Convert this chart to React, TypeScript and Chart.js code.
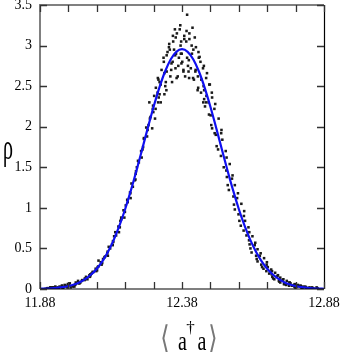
import React, { useEffect, useRef } from 'react';
import { Chart, registerables } from 'chart.js';

Chart.register(...registerables);

// Fitted curve (blue line)
const curveX = [
  11.88, 11.90, 11.92, 11.94, 11.96, 11.98, 12.00, 12.02, 12.04, 12.06, 12.08,
  12.10, 12.12, 12.14, 12.16, 12.18, 12.20, 12.22, 12.24, 12.26, 12.28,
  12.30, 12.32, 12.34, 12.36, 12.38, 12.40, 12.42, 12.44, 12.46, 12.48,
  12.50, 12.52, 12.54, 12.56, 12.58, 12.60, 12.62, 12.64, 12.66, 12.68,
  12.70, 12.72, 12.74, 12.76, 12.78, 12.80, 12.82, 12.84, 12.86, 12.88,
];
const curveY = [
  0.003, 0.005, 0.009, 0.015, 0.023, 0.037, 0.056, 0.084, 0.124, 0.178, 0.250,
  0.344, 0.462, 0.608, 0.783, 0.986, 1.215, 1.464, 1.726, 1.991, 2.246,
  2.479, 2.677, 2.828, 2.923, 2.955, 2.923, 2.828, 2.677, 2.479, 2.246,
  1.991, 1.726, 1.464, 1.215, 0.986, 0.783, 0.608, 0.462, 0.344, 0.250,
  0.178, 0.124, 0.084, 0.056, 0.037, 0.023, 0.015, 0.009, 0.005, 0.003,
];

// Sampled data (black dots)
const sampleX = [
  11.908, 11.898, 11.918, 11.901, 11.916, 11.905,
  11.926, 11.921, 11.937, 11.923, 11.934, 11.926,
  11.949, 11.939, 11.959, 11.942, 11.958, 11.947,
  11.962, 11.957, 11.974, 11.967, 11.977, 11.976,
  11.988, 11.978, 11.998, 11.981, 11.996, 11.985,
  12.006, 12.001, 12.017, 12.003, 12.014, 12.006,
  12.029, 12.019, 12.039, 12.022, 12.038, 12.027,
  12.042, 12.037, 12.054, 12.047, 12.057, 12.056,
  12.068, 12.058, 12.078, 12.061, 12.076, 12.065,
  12.086, 12.081, 12.097, 12.083, 12.094, 12.086,
  12.109, 12.099, 12.119, 12.102, 12.118, 12.107,
  12.122, 12.117, 12.134, 12.127, 12.137, 12.136,
  12.148, 12.138, 12.158, 12.141, 12.156, 12.145,
  12.166, 12.161, 12.177, 12.163, 12.174, 12.166,
  12.189, 12.179, 12.199, 12.182, 12.198, 12.187,
  12.202, 12.197, 12.214, 12.207, 12.217, 12.216,
  12.228, 12.218, 12.238, 12.221, 12.236, 12.225,
  12.246, 12.241, 12.257, 12.243, 12.254, 12.246,
  12.269, 12.259, 12.279, 12.262, 12.278, 12.267,
  12.282, 12.277, 12.294, 12.287, 12.297, 12.296,
  12.308, 12.298, 12.318, 12.301, 12.316, 12.305,
  12.326, 12.321, 12.337, 12.323, 12.334, 12.326,
  12.349, 12.339, 12.359, 12.342, 12.358, 12.347,
  12.362, 12.357, 12.374, 12.367, 12.377, 12.376,
  12.388, 12.378, 12.398, 12.381, 12.396, 12.385,
  12.406, 12.401, 12.417, 12.403, 12.414, 12.406,
  12.429, 12.419, 12.439, 12.422, 12.438, 12.427,
  12.442, 12.437, 12.454, 12.447, 12.457, 12.456,
  12.468, 12.458, 12.478, 12.461, 12.476, 12.465,
  12.486, 12.481, 12.497, 12.483, 12.494, 12.486,
  12.509, 12.499, 12.519, 12.502, 12.518, 12.507,
  12.522, 12.517, 12.534, 12.527, 12.537, 12.536,
  12.548, 12.538, 12.558, 12.541, 12.556, 12.545,
  12.566, 12.561, 12.577, 12.563, 12.574, 12.566,
  12.589, 12.579, 12.599, 12.582, 12.598, 12.587,
  12.602, 12.597, 12.614, 12.607, 12.617, 12.616,
  12.628, 12.618, 12.638, 12.621, 12.636, 12.625,
  12.646, 12.641, 12.657, 12.643, 12.654, 12.646,
  12.669, 12.659, 12.679, 12.662, 12.678, 12.667,
  12.682, 12.677, 12.694, 12.687, 12.697, 12.696,
  12.708, 12.698, 12.718, 12.701, 12.716, 12.705,
  12.726, 12.721, 12.737, 12.723, 12.734, 12.726,
  12.749, 12.739, 12.759, 12.742, 12.758, 12.747,
  12.762, 12.757, 12.774, 12.767, 12.777, 12.776,
  12.788, 12.778, 12.798, 12.781, 12.796, 12.785,
  12.806, 12.801, 12.817, 12.803, 12.814, 12.806,
  12.829, 12.819, 12.839, 12.822, 12.838, 12.827,
  12.842, 12.837, 12.854, 12.847, 12.857, 12.856,
  12.265, 12.275, 12.285, 12.295, 12.305, 12.315,
  12.325, 12.335, 12.345, 12.355, 12.365, 12.375,
  12.385, 12.395, 12.405, 12.415, 12.425, 12.435,
  12.445, 12.455, 12.465, 12.475, 12.485, 12.495,
  12.288, 12.301, 12.318, 12.329, 12.343, 12.352,
  12.361, 12.369, 12.379, 12.391, 12.404, 12.411,
  12.420, 12.428, 12.436, 12.448, 12.458, 12.466,
  12.474, 12.348, 12.356, 12.372, 12.388, 12.398,
];
const sampleY = [
  0.01, 0.00, 0.02, 0.00, 0.02, 0.01,
  0.02, 0.00, 0.01, 0.00, 0.03, 0.02,
  0.03, 0.01, 0.00, 0.02, 0.04, 0.01,
  0.01, 0.04, 0.03, 0.05, 0.02, 0.04,
  0.02, 0.06, 0.04, 0.06, 0.03, 0.07,
  0.08, 0.03, 0.07, 0.05, 0.10, 0.06,
  0.11, 0.07, 0.12, 0.08, 0.13, 0.10,
  0.15, 0.11, 0.17, 0.12, 0.18, 0.15,
  0.21, 0.17, 0.22, 0.19, 0.25, 0.21,
  0.28, 0.23, 0.30, 0.27, 0.33, 0.35,
  0.40, 0.32, 0.41, 0.37, 0.46, 0.39,
  0.52, 0.44, 0.55, 0.50, 0.59, 0.54,
  0.66, 0.58, 0.70, 0.65, 0.77, 0.70,
  0.86, 0.76, 0.88, 0.84, 0.97, 0.88,
  1.07, 0.95, 1.12, 1.03, 1.18, 1.10,
  1.30, 1.19, 1.34, 1.26, 1.42, 1.35,
  1.56, 1.45, 1.62, 1.50, 1.70, 1.58,
  1.86, 1.72, 1.88, 1.75, 1.99, 1.85,
  2.12, 1.96, 2.18, 2.02, 2.26, 2.10,
  2.38, 2.22, 2.42, 2.22, 2.58, 2.30,
  2.70, 2.36, 2.66, 2.40, 2.80, 2.52,
  2.88, 2.50, 2.95, 2.55, 2.98, 2.68,
  3.05, 2.62, 2.90, 2.70, 3.10, 2.80,
  3.15, 2.72, 3.25, 2.75, 3.05, 2.90,
  3.12, 2.78, 3.38, 2.80, 3.18, 2.70,
  3.08, 2.75, 3.22, 2.68, 3.00, 3.15,
  2.98, 2.60, 2.85, 2.58, 2.92, 2.68,
  2.86, 2.48, 2.72, 2.42, 2.75, 2.50,
  2.66, 2.34, 2.52, 2.25, 2.52, 2.30,
  2.36, 2.14, 2.28, 2.02, 2.22, 1.98,
  2.10, 1.90, 1.96, 1.76, 1.92, 1.72,
  1.84, 1.64, 1.70, 1.50, 1.62, 1.46,
  1.54, 1.38, 1.40, 1.28, 1.36, 1.22,
  1.28, 1.14, 1.18, 1.04, 1.12, 0.98,
  1.05, 0.92, 0.96, 0.84, 0.90, 0.78,
  0.84, 0.72, 0.76, 0.66, 0.70, 0.60,
  0.65, 0.55, 0.57, 0.50, 0.54, 0.45,
  0.49, 0.41, 0.44, 0.37, 0.41, 0.34,
  0.38, 0.30, 0.33, 0.27, 0.30, 0.25,
  0.27, 0.22, 0.24, 0.19, 0.22, 0.18,
  0.20, 0.15, 0.17, 0.13, 0.16, 0.12,
  0.14, 0.10, 0.12, 0.09, 0.11, 0.08,
  0.10, 0.06, 0.08, 0.06, 0.08, 0.05,
  0.07, 0.04, 0.05, 0.04, 0.06, 0.03,
  0.05, 0.02, 0.04, 0.02, 0.04, 0.03,
  0.03, 0.01, 0.02, 0.01, 0.03, 0.02,
  0.02, 0.00, 0.01, 0.00, 0.02, 0.01,
  0.01, 0.00, 0.02, 0.00, 0.01, 0.00,
  2.30, 1.98, 2.10, 2.60, 2.30, 2.85,
  2.45, 3.02, 2.55, 3.20, 2.62, 3.00,
  2.68, 3.05, 2.60, 2.90, 3.10, 2.45,
  2.80, 2.30, 2.60, 2.15, 2.42, 1.92,
  2.48, 2.55, 2.40, 2.92, 2.78, 2.95,
  2.60, 2.85, 2.90, 2.62, 2.82, 2.72,
  2.95, 2.70, 2.62, 2.58, 2.45, 2.38,
  2.30, 3.12, 2.88, 3.20, 3.08, 2.85,
];

const xTickValues = [11.88, 11.98, 12.08, 12.18, 12.28, 12.38, 12.48, 12.58, 12.68, 12.78, 12.88];
const xTickLabels = ['11.88', '', '', '', '', '12.38', '', '', '', '', '12.88'];
const yTickValues = [0, 0.5, 1, 1.5, 2, 2.5, 3, 3.5];
const yTickLabels = ['0', '0.5', '1', '1.5', '2', '2.5', '3', '3.5'];
const yTitle = 'ρ';
const xTitleParts = ['⟨', 'a', '†', 'a', '⟩'];

const SERIF = "'Liberation Serif', 'Times New Roman', serif";

const framePlugin = {
  id: 'frameAndTitles',
  afterDatasetsDraw(chart: any) {
    const { ctx, chartArea, scales } = chart;
    const { left, right, top, bottom } = chartArea;
    ctx.save();
    ctx.strokeStyle = '#808080';
    ctx.lineWidth = 2;
    ctx.beginPath();
    ctx.moveTo(left, bottom);
    ctx.lineTo(left, top);
    ctx.lineTo(right, top);
    ctx.stroke();
    ctx.strokeStyle = '#000';
    ctx.lineWidth = 1.2;
    ctx.beginPath();
    ctx.moveTo(right + 0.5, top);
    ctx.lineTo(right + 0.5, bottom);
    ctx.moveTo(left, bottom);
    ctx.lineTo(right, bottom);
    ctx.stroke();
    ctx.strokeStyle = '#333';
    ctx.lineWidth = 1.3;
    ctx.beginPath();
    yTickValues.forEach((v) => {
      const y = Math.round(scales.y.getPixelForValue(v)) + 0.5;
      ctx.moveTo(left, y);
      ctx.lineTo(left + 7, y);
      ctx.moveTo(right, y);
      ctx.lineTo(right - 7, y);
    });
    xTickValues.forEach((v) => {
      const x = Math.round(scales.x.getPixelForValue(v)) + 0.5;
      ctx.moveTo(x, bottom);
      ctx.lineTo(x, bottom - 7);
      ctx.moveTo(x, top);
      ctx.lineTo(x, top + 7);
    });
    ctx.stroke();
    ctx.restore();
  },
  afterDraw(chart: any) {
    const { ctx } = chart;
    ctx.save();
    ctx.fillStyle = '#000';
    ctx.textAlign = 'center';
    ctx.textBaseline = 'alphabetic';
    // y title
    ctx.save();
    ctx.translate(8, 159);
    ctx.scale(1, 1.75);
    ctx.font = `20px ${SERIF}`;
    ctx.fillText(yTitle, 0, 0);
    ctx.restore();
    // x title
    const cx = [165, 182.5, 190.5, 202, 213];
    ctx.save();
    ctx.fillStyle = '#777';
    ctx.font = "24px 'DejaVu Sans', sans-serif";
    ctx.translate(0, 348);
    ctx.scale(1, 1.3);
    ctx.fillText(xTitleParts[0], cx[0], 0);
    ctx.fillText(xTitleParts[4], cx[4], 0);
    ctx.restore();
    ctx.save();
    ctx.font = `20px ${SERIF}`;
    ctx.translate(0, 350);
    ctx.scale(1, 1.4);
    ctx.fillText(xTitleParts[1], cx[1], 0);
    ctx.fillText(xTitleParts[3], cx[3], 0);
    ctx.restore();
    ctx.font = `17px ${SERIF}`;
    ctx.fillText(xTitleParts[2], cx[2], 333);
    ctx.restore();
  },
};

export default function App() {
  const canvasRef = useRef<HTMLCanvasElement | null>(null);

  useEffect(() => {
    const canvas = canvasRef.current;
    if (!canvas) return;
    const chart = new Chart(canvas, {
      type: 'scatter',
      data: {
        datasets: [
          {
            label: 'fit',
            data: curveX.map((x, i) => ({ x, y: curveY[i] })),
            showLine: true,
            borderColor: '#1010f0',
            borderWidth: 2.2,
            pointRadius: 0,
            cubicInterpolationMode: 'monotone',
            fill: false,
          } as any,
          {
            label: 'data',
            data: sampleX.map((x, i) => ({ x, y: sampleY[i] })),
            showLine: false,
            pointRadius: 1.8,
            pointStyle: 'rect',
            backgroundColor: '#1a1a1a',
            borderWidth: 0,
          } as any,
        ],
      },
      options: {
        responsive: false,
        animation: false,
        devicePixelRatio: 1,
        events: [],
        layout: { padding: { top: 5, right: 22, left: 0, bottom: 0 } },
        plugins: {
          legend: { display: false },
          tooltip: { enabled: false },
          title: { display: false },
        },
        scales: {
          x: {
            type: 'linear',
            min: 11.88,
            max: 12.88,
            afterBuildTicks: (s: any) => {
              s.ticks = xTickValues.map((v) => ({ value: v }));
            },
            afterFit: (s: any) => {
              s.height = 66;
              s.paddingLeft = 0;
              s.paddingRight = 0;
            },
            grid: { display: false, drawTicks: false },
            border: { display: false },
            ticks: {
              autoSkip: false,
              maxRotation: 0,
              padding: 6,
              color: '#000',
              font: { family: SERIF, size: 14 },
              callback: (_v: any, i: number) => xTickLabels[i],
            },
          },
          y: {
            type: 'linear',
            min: 0,
            max: 3.5,
            afterBuildTicks: (s: any) => {
              s.ticks = yTickValues.map((v) => ({ value: v }));
            },
            afterFit: (s: any) => {
              s.width = 40;
              s.paddingTop = 0;
              s.paddingBottom = 0;
            },
            grid: { display: false, drawTicks: false },
            border: { display: false },
            ticks: {
              autoSkip: false,
              padding: 8,
              color: '#000',
              font: { family: SERIF, size: 14 },
              callback: (_v: any, i: number) => yTickLabels[i],
            },
          },
        },
      },
      plugins: [framePlugin],
    });
    return () => chart.destroy();
  }, []);

  return (
    <div style={{ position: 'absolute', left: 0, top: 0, width: 346, height: 355, background: '#fff' }}>
      <canvas ref={canvasRef} width={346} height={355} style={{ display: 'block' }} />
    </div>
  );
}
